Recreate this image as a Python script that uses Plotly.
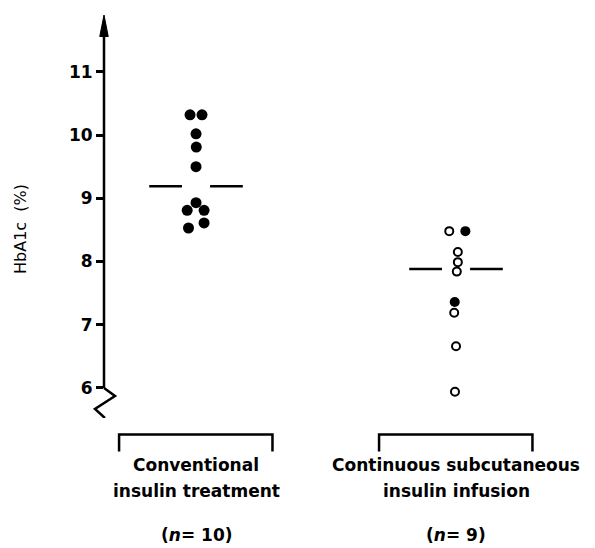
import plotly.graph_objects as go

# ---- data ----
group_labels_line1 = ["Conventional", "Continuous subcutaneous"]
group_labels_line2 = ["insulin treatment", "insulin infusion"]
group_n = [10, 9]

conv_values = [10.32, 10.32, 10.02, 9.81, 9.50, 8.93, 8.81, 8.81, 8.61, 8.53]
csii_values = [8.48, 8.48, 8.15, 7.99, 7.84, 7.36, 7.19, 6.66, 5.94]
csii_filled = [False, True, False, False, False, True, False, False, False]
group_means = [9.19, 7.88]
y_ticks = [6, 7, 8, 9, 10, 11]

# horizontal scatter within each column (to avoid overplotting)
conv_jitter = [-0.023, 0.023, 0.0, 0.001, 0.0, 0.0, -0.034, 0.031, 0.031, -0.029]
csii_jitter = [-0.026, 0.036, 0.007, 0.007, 0.003, -0.005, -0.007, 0.0, -0.004]

# ---- layout geometry ----
W, H = 595, 548
ML, MR, MT, MB = 104, 45, 15, 130
PW, PH = W - ML - MR, H - MT - MB
X_RANGE = [0.646, 2.3615]
Y_RANGE = [5.524, 11.9]
FONT = "DejaVu Sans"

fig = go.Figure()

# conventional group: all filled
fig.add_trace(go.Scatter(
    x=[1 + j for j in conv_jitter], y=conv_values, mode="markers",
    marker=dict(symbol="circle", size=11, color="black"),
    showlegend=False, hoverinfo="y"))

# CSII group: open and filled
xo = [2 + j for j, f in zip(csii_jitter, csii_filled) if not f]
yo = [v for v, f in zip(csii_values, csii_filled) if not f]
xf = [2 + j for j, f in zip(csii_jitter, csii_filled) if f]
yf = [v for v, f in zip(csii_values, csii_filled) if f]
fig.add_trace(go.Scatter(
    x=xo, y=yo, mode="markers",
    marker=dict(symbol="circle-open", size=8, color="black", line=dict(width=2, color="black")),
    showlegend=False, hoverinfo="y"))
fig.add_trace(go.Scatter(
    x=xf, y=yf, mode="markers",
    marker=dict(symbol="circle", size=10, color="black"),
    showlegend=False, hoverinfo="y"))

# mean lines (split around the points)
for i, m in enumerate(group_means):
    c = i + 1
    fig.add_trace(go.Scatter(
        x=[c - 0.18, c - 0.054, None, c + 0.054, c + 0.18],
        y=[m, m, None, m, m], mode="lines",
        line=dict(color="black", width=2.5),
        showlegend=False, hoverinfo="skip"))

shapes = []
# y-axis line with arrow and zigzag break
shapes.append(dict(type="line", xref="paper", yref="y", x0=0, x1=0, y0=6, y1=11.6,
                   line=dict(color="black", width=2.5)))
shapes.append(dict(type="path", xref="paper", yref="y",
                   path="M 0,11.9 L -0.0095,11.56 L 0.0095,11.56 Z",
                   fillcolor="black", line=dict(color="black", width=1)))
shapes.append(dict(type="path", xref="paper", yref="y",
                   path="M 0,6 L 0.0247,5.872 L -0.0202,5.666 L 0.002,5.524",
                   line=dict(color="black", width=2.5)))

# brackets under each group
for c in [1, 2]:
    shapes.append(dict(type="path", xref="x", yref="paper",
                       path=f"M {c-0.296},-0.083 L {c-0.296},-0.041 L {c+0.294},-0.041 L {c+0.294},-0.083",
                       line=dict(color="black", width=2.5)))

annotations = []
def py2paper(py):
    return (H - MB - py) / PH

for i in range(2):
    c = i + 1
    annotations.append(dict(x=c, y=py2paper(465), xref="x", yref="paper",
                            text=group_labels_line1[i], showarrow=False,
                            xanchor="center", yanchor="middle",
                            font=dict(family=FONT, size=17, color="black", weight="bold")))
    annotations.append(dict(x=c, y=py2paper(491), xref="x", yref="paper",
                            text=group_labels_line2[i], showarrow=False,
                            xanchor="center", yanchor="middle",
                            font=dict(family=FONT, size=17, color="black", weight="bold")))
    annotations.append(dict(x=c, y=py2paper(535), xref="x", yref="paper",
                            text=f"(<i>n</i>= {group_n[i]})", showarrow=False,
                            xanchor="center", yanchor="middle",
                            font=dict(family=FONT, size=17, color="black", weight="bold")))

# y-axis title
annotations.append(dict(x=(20 - ML) / PW, y=py2paper(229), xref="paper", yref="paper",
                        text="HbA1c\u00a0\u00a0(%)", showarrow=False, textangle=-90,
                        xanchor="center", yanchor="middle",
                        font=dict(family=FONT, size=16, color="black")))

fig.update_layout(
    width=W, height=H, autosize=False,
    margin=dict(l=ML, r=MR, t=MT, b=MB, pad=0),
    paper_bgcolor="white", plot_bgcolor="white",
    xaxis=dict(range=X_RANGE, showgrid=False, zeroline=False, showline=False,
               showticklabels=False, ticks=""),
    yaxis=dict(range=Y_RANGE, showgrid=False, zeroline=False, showline=False,
               tickvals=y_ticks, ticktext=[str(t) for t in y_ticks],
               ticks="outside", ticklen=7, tickwidth=2.5, tickcolor="black",
               tickfont=dict(family=FONT, size=17, color="black", weight="bold")),
    shapes=shapes, annotations=annotations,
)

fig.write_html("out.html", config={"displayModeBar": False},
               post_script="document.body.style.margin='0';document.body.style.padding='0';")
